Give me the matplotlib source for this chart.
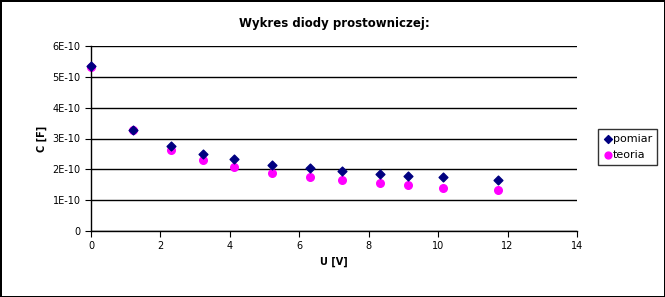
import matplotlib
matplotlib.use("Agg")
import matplotlib.pyplot as plt
from matplotlib.ticker import FuncFormatter

u_pomiar = [0.0, 1.21, 2.30, 3.23, 4.12, 5.21, 6.31, 7.23, 8.33, 9.13, 10.14, 11.73]
c_pomiar = [5.35e-10, 3.28e-10, 2.77e-10, 2.51e-10, 2.32e-10, 2.15e-10, 2.03e-10, 1.94e-10, 1.86e-10, 1.80e-10, 1.74e-10, 1.67e-10]
u_teoria = [0.0, 1.21, 2.30, 3.23, 4.12, 5.21, 6.31, 7.23, 8.33, 9.13, 10.14, 11.73]
c_teoria = [5.33e-10, 3.29e-10, 2.63e-10, 2.31e-10, 2.09e-10, 1.88e-10, 1.74e-10, 1.64e-10, 1.55e-10, 1.48e-10, 1.41e-10, 1.33e-10]

fig = plt.figure(figsize=(6.65, 2.97), dpi=100)
fig.patch.set_edgecolor("black")
fig.patch.set_linewidth(2)
ax = fig.add_axes([91/665, 1-231/297, (577-91)/665, (231-46)/297])

ax.scatter(u_pomiar, c_pomiar, marker="D", s=20, color="#000080", label="pomiar", zorder=3, clip_on=False)
ax.scatter(u_teoria, c_teoria, marker="o", s=30, color="#FF00FF", label="teoria", zorder=2, clip_on=False)

ax.set_xlim(0, 14)
ax.set_ylim(0, 6e-10)
ax.set_xticks(range(0, 15, 2))
ax.set_yticks([i*1e-10 for i in range(7)])
ax.yaxis.set_major_formatter(FuncFormatter(lambda v, p: "0" if v == 0 else f"{round(v*1e10)}E-10"))
ax.yaxis.get_offset_text().set_visible(False)
ax.grid(axis="y", color="black", linewidth=1)
ax.set_axisbelow(True)
for s in ["top", "right"]:
    ax.spines[s].set_visible(False)
ax.spines["left"].set_linewidth(1)
ax.spines["bottom"].set_linewidth(1)
ax.tick_params(labelsize=7, length=4, direction="out")
ax.set_xlabel("U [V]", fontsize=7, fontweight="bold")
ax.set_ylabel("C [F]", fontsize=7, fontweight="bold")
ax.set_title("Wykres diody prostowniczej:", fontsize=8.5, fontweight="bold", pad=14)

leg = fig.legend(loc="upper left", bbox_to_anchor=(598/665, 1-129/297), fontsize=8,
                 frameon=True, fancybox=False, edgecolor="black", handletextpad=0.0,
                 handlelength=0.9, borderpad=0.45, labelspacing=0.55, markerscale=0.9, borderaxespad=0)
leg.get_frame().set_linewidth(1)

fig.savefig("out.png", dpi=100, edgecolor=fig.get_edgecolor())
